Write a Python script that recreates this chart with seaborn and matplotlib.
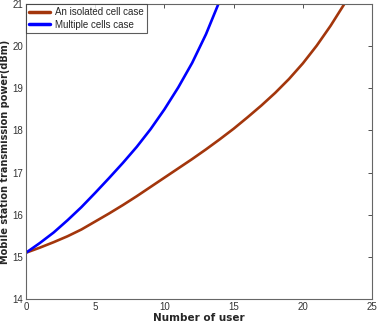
import numpy as np
import pandas as pd
import matplotlib
matplotlib.use("Agg")
import matplotlib.pyplot as plt
import seaborn as sns

# values
users_isolated = list(range(0, 25))
power_isolated = [15.10, 15.22, 15.35, 15.49, 15.65, 15.84, 16.03, 16.23, 16.44, 16.66,
                  16.88, 17.10, 17.32, 17.55, 17.79, 18.04, 18.31, 18.59, 18.89, 19.22,
                  19.59, 20.01, 20.48, 21.00, 21.56]
users_multi = list(range(0, 15))
power_multi = [15.10, 15.33, 15.58, 15.87, 16.18, 16.52, 16.87, 17.23, 17.61, 18.03,
               18.50, 19.02, 19.60, 20.28, 21.08]

label_isolated = "An isolated cell case"
label_multi = "Multiple cells case"

df = pd.concat([
    pd.DataFrame({"users": users_isolated, "power": power_isolated, "case": label_isolated}),
    pd.DataFrame({"users": users_multi, "power": power_multi, "case": label_multi}),
])

sns.set_style("white")
plt.rcParams["font.family"] = ["Liberation Sans Narrow", "Liberation Sans", "DejaVu Sans"]

fig = plt.figure(figsize=(3.77, 3.23), dpi=100)
ax = fig.add_axes([0.069, 0.074, 0.918, 0.914])

sns.lineplot(data=df, x="users", y="power", hue="case",
             palette={label_isolated: "#A3360C", label_multi: "#0000FF"},
             linewidth=1.9, ax=ax)

ax.set_xlim(0, 25)
ax.set_ylim(14, 21)
ax.set_xticks([0, 5, 10, 15, 20, 25])
ax.set_yticks([14, 15, 16, 17, 18, 19, 20, 21])
ax.tick_params(direction="in", length=3, width=0.6, labelsize=7, top=True, right=True,
               colors="#333333", pad=2)
for s in ax.spines.values():
    s.set_color("#666666")
    s.set_linewidth(0.8)

ax.set_xlabel("Number of user", fontsize=7.5, fontweight="bold", labelpad=1,
              family=["DejaVu Sans"])
ax.set_ylabel("Mobile station transmission power(dBm)", fontsize=7, fontweight="bold",
              labelpad=2, family=["DejaVu Sans"])

leg = ax.legend(loc="upper left", fontsize=7, frameon=True, fancybox=False,
                borderaxespad=0.0, handlelength=2.1, borderpad=0.35, labelspacing=0.25,
                handletextpad=0.5)
leg.get_frame().set_edgecolor("#333333")
leg.get_frame().set_linewidth(0.8)
for line in leg.get_lines():
    line.set_linewidth(2.5)

fig.savefig("out.png", dpi=100)
